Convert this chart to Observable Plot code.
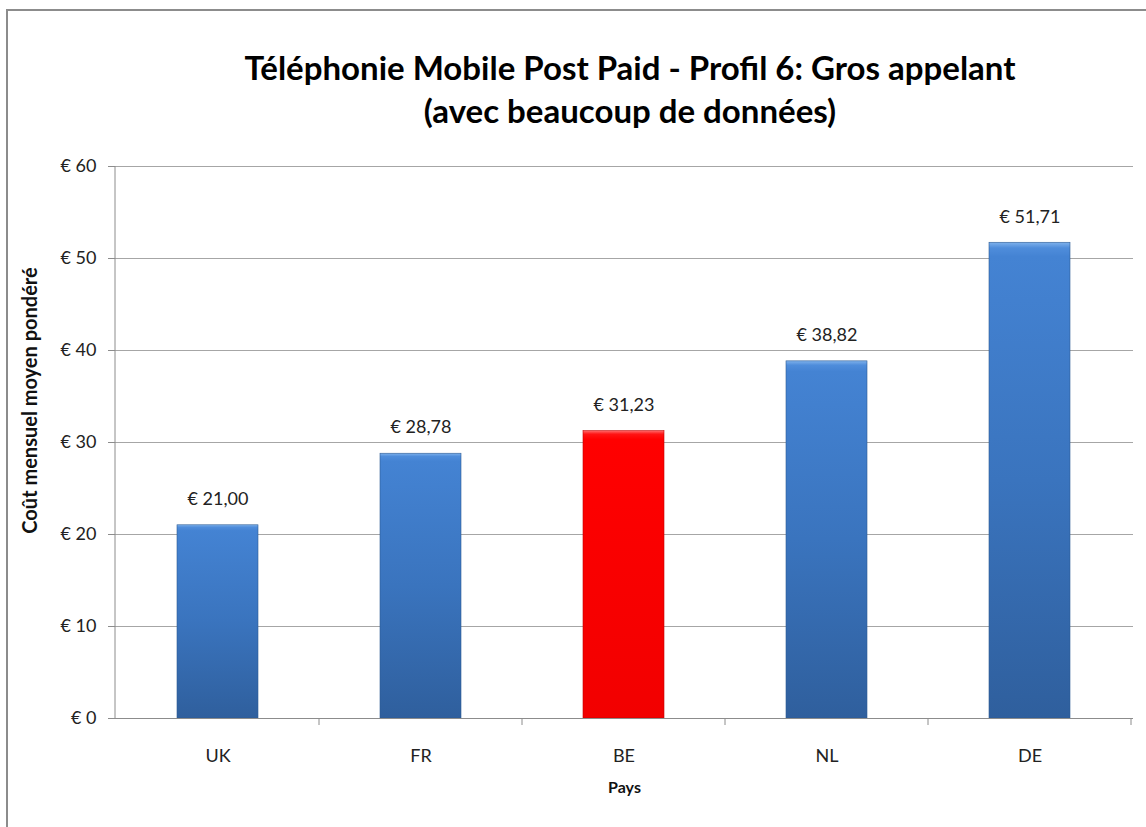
<!DOCTYPE html>
<html>
<head>
<meta charset="utf-8">
<script src="https://cdn.jsdelivr.net/npm/d3@7"></script>
<script src="https://cdn.jsdelivr.net/npm/@observablehq/plot@0.6"></script>
<style>
  html, body { margin: 0; padding: 0; background: #fff; }
  body { width: 1146px; height: 827px; overflow: hidden; position: relative;
         font-family: Lato, "Open Sans", sans-serif; }
  #frame { position: absolute; left: 6px; top: 9px; right: -10px; bottom: -10px;
           border-left: 2px solid #8c8c8c; border-top: 2px solid #8c8c8c; }
  #title { position: absolute; left: 0; top: 46px; width: 1260px; text-align: center;
           font-weight: bold; font-size: 33px; line-height: 43px; color: #000; }
  #chart { position: absolute; left: 0; top: 140px; }
</style>
</head>
<body>
<div id="frame"></div>
<div id="title">Téléphonie Mobile Post Paid - Profil 6: Gros appelant<br>(avec beaucoup de données)</div>
<div id="chart"></div>
<script>
const countries = ["UK", "FR", "BE", "NL", "DE"];
const costs = [21.00, 28.78, 31.23, 38.82, 51.71];
const highlighted = ["BE"];
const yTicks = [0, 10, 20, 30, 40, 50, 60];
const yLabel = "Coût mensuel moyen pondéré";
const xLabel = "Pays";

const data = countries.map((c, i) => ({country: c, cost: costs[i]}));
const euro = v => "€ " + v.toFixed(2).replace(".", ",");
const euroTick = v => "€ " + v;

const font = "Lato, Open Sans, sans-serif";

const plot = Plot.plot({
  width: 1146,
  height: 687,
  marginTop: 26,
  marginBottom: 109,
  marginLeft: 115,
  marginRight: 13,
  style: {fontFamily: font, fontSize: "18px", color: "#222", background: "transparent"},
  x: {domain: countries, paddingInner: 0.6, paddingOuter: 0.3, label: null},
  y: {domain: [0, 60], label: null},
  marks: [
    Plot.gridY(yTicks, {stroke: "#a6a6a6", strokeOpacity: 1, strokeWidth: 1}),
    Plot.axisY(yTicks, {tickFormat: euroTick, tickSize: 7, tickPadding: 12, stroke: "#8c8c8c", fontSize: 18}),
    Plot.axisX({tickSize: 0, tickPadding: 31, fontSize: 18}),
    Plot.barY(data.filter(d => !highlighted.includes(d.country)),
      {x: "country", y: "cost", fill: "url(#gBlue)", stroke: "#2d5a93", strokeWidth: 0.6}),
    Plot.barY(data.filter(d => highlighted.includes(d.country)),
      {x: "country", y: "cost", fill: "url(#gRed)", stroke: "#c40000", strokeWidth: 0.6}),
    Plot.ruleY([0], {stroke: "#8c8c8c"}),
    Plot.text(data, {x: "country", y: "cost", text: d => euro(d.cost), dy: -26, fontSize: 18, fill: "#222"}),
    Plot.text([xLabel], {frameAnchor: "bottom", lineAnchor: "middle", dy: 69, fontWeight: "bold", fontSize: 16, fill: "#111"}),
    Plot.text([yLabel], {frameAnchor: "left", textAnchor: "middle", lineAnchor: "middle", rotate: -90, dx: -85, dy: -42, fontWeight: "bold", fontSize: 20, fill: "#111"})
  ]
});

const svg = d3.select(plot);
const defs = svg.insert("defs", ":first-child");
function grad(id, stops) {
  const g = defs.append("linearGradient").attr("id", id)
    .attr("x1", 0).attr("y1", 0).attr("x2", 0).attr("y2", 1);
  stops.forEach(([o, c]) => g.append("stop").attr("offset", o).attr("stop-color", c));
}
grad("gBlue", [[0, "#7fb2ec"], [0.012, "#4f8ddb"], [0.03, "#4483d3"], [0.5, "#3a74be"], [1, "#2f5f9d"]]);
grad("gRed", [[0, "#ff6a6a"], [0.012, "#ff1414"], [0.03, "#ff0000"], [1, "#f20000"]]);

// Axis line and category separator ticks, placed from Plot's scales
const xs = plot.scale("x"), ys = plot.scale("y");
const y0 = ys.apply(0), yTop = ys.apply(60);
const left = xs.range[0];
svg.append("line").attr("x1", left).attr("x2", left).attr("y1", yTop).attr("y2", y0)
  .attr("stroke", "#8c8c8c");
const half = (xs.step - xs.bandwidth) / 2;
countries.forEach(c => {
  const xb = xs.apply(c) + xs.bandwidth + half;
  svg.append("line").attr("x1", xb).attr("x2", xb).attr("y1", y0).attr("y2", y0 + 7)
    .attr("stroke", "#8c8c8c");
});

document.getElementById("chart").appendChild(plot);
</script>
</body>
</html>
